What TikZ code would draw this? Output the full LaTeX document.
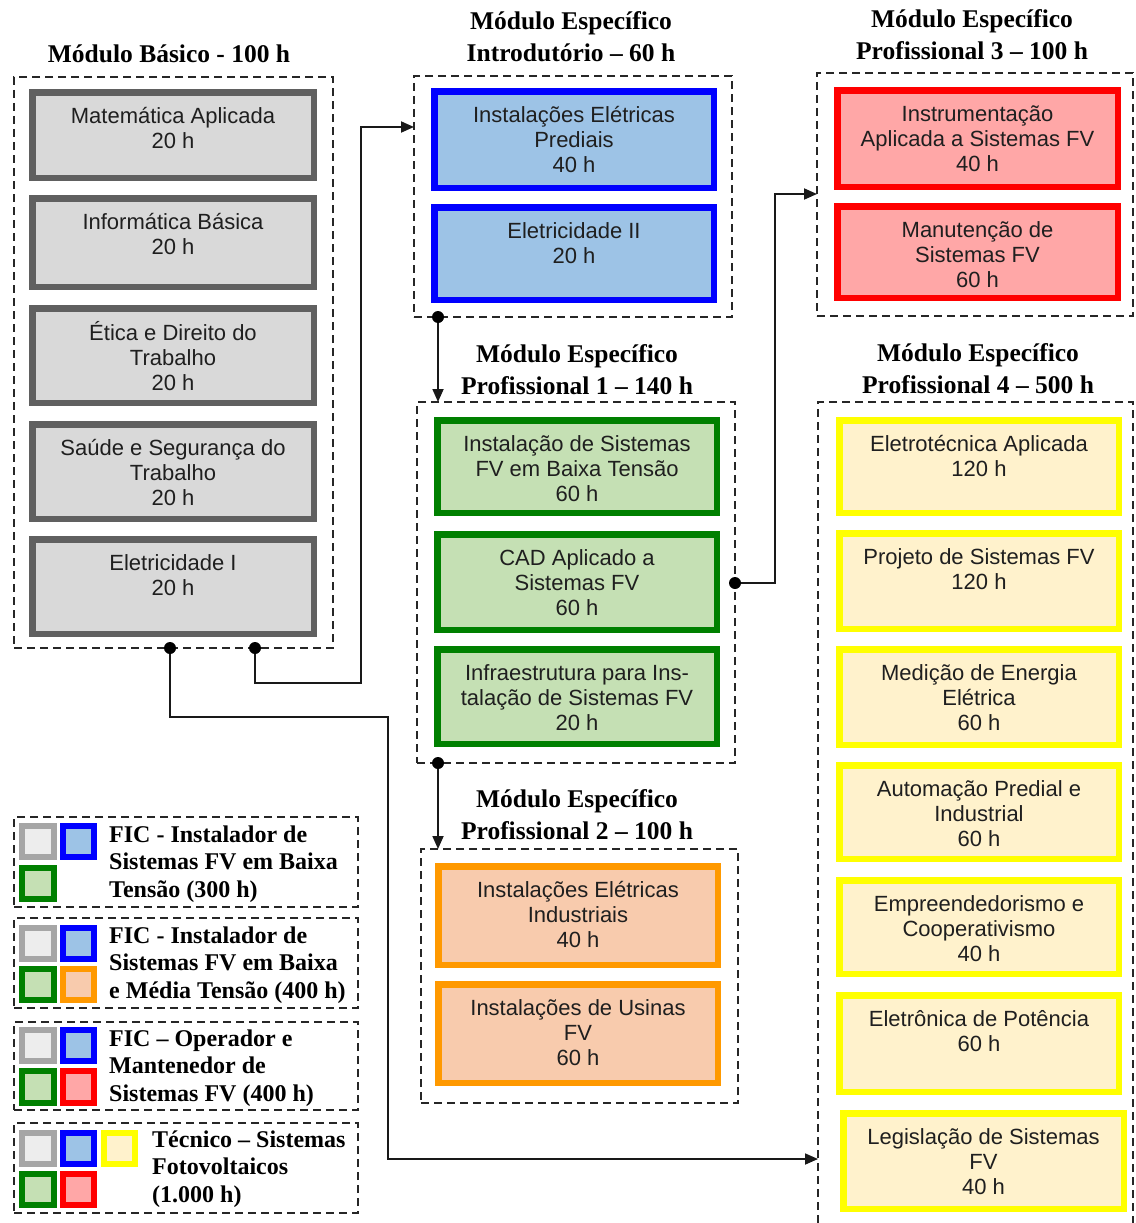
\documentclass[tikz,border=0pt]{standalone}
\usepackage{fontspec}
\setmainfont{Liberation Serif}
\newfontfamily\arialf{Liberation Sans}
\usetikzlibrary{arrows.meta,calc}
\definecolor{gB}{HTML}{606060}\definecolor{gF}{HTML}{D9D9D9}
\definecolor{bB}{HTML}{0000FF}\definecolor{bF}{HTML}{9DC3E6}
\definecolor{grB}{HTML}{008000}\definecolor{grF}{HTML}{C5E0B4}
\definecolor{oB}{HTML}{FF9900}\definecolor{oF}{HTML}{F8CBAD}
\definecolor{rB}{HTML}{FF0000}\definecolor{rF}{HTML}{FFA7A7}
\definecolor{yB}{HTML}{FFFF00}\definecolor{yF}{HTML}{FFF2CC}
\definecolor{lgB}{HTML}{A6A6A6}\definecolor{lgF}{HTML}{EDEDED}
\definecolor{txt}{HTML}{1F1F1F}
\tikzset{
  modbox/.style={draw=black!85, line width=1.8pt, dash pattern=on 8pt off 5pt, inner sep=0pt, outer sep=0pt},
  subjbox/.style={line width=6.5pt, inner sep=0pt, outer sep=0pt},
  gbox/.style={subjbox, draw=gB, fill=gF},
  bbox/.style={subjbox, draw=bB, fill=bF},
  grbox/.style={subjbox, draw=grB, fill=grF},
  obox/.style={subjbox, draw=oB, fill=oF},
  rbox/.style={subjbox, draw=rB, fill=rF},
  ybox/.style={subjbox, draw=yB, fill=yF},
  boxtext/.style={font=\arialf\fontsize{22}{25}\selectfont, text=txt, align=center, inner sep=0pt},
  ttl/.style={font=\bfseries\fontsize{25.5}{32}\selectfont, align=center, inner sep=0pt},
  legtext/.style={font=\bfseries\fontsize{24}{27.5}\selectfont, align=left, inner sep=0pt},
  conn/.style={line width=1.8pt, draw=black!90},
  arrowend/.style={-{Triangle[length=13pt,width=11pt]}},
  dotnode/.style={circle, fill=black, inner sep=0pt, minimum size=12pt},
  lsq/.style={line width=6pt, inner sep=0pt, outer sep=0pt},
  lgq/.style={lsq, draw=lgB, fill=lgF},
  lbq/.style={lsq, draw=bB, fill=bF},
  lgrq/.style={lsq, draw=grB, fill=grF},
  loq/.style={lsq, draw=oB, fill=oF},
  lrq/.style={lsq, draw=rB, fill=rF},
  lyq/.style={lsq, draw=yB, fill=yF},
}
\newcommand\mymod[5]{\node[modbox, anchor=north west, minimum width={(#4)-(#2)}, minimum height={(#5)-(#3)}] (#1) at (#2,#3) {};}
\newcommand\mybox[7]{%
  \node[#1, anchor=north west, minimum width={(#5)-(#3)-6.5}, minimum height={(#6)-(#4)-6.5}] (#2) at ({#3+3.25},{#4+3.25}) {};
  \node[boxtext, anchor=north] (#2t) at ([yshift=-13.25pt]#2.north) {\strut #7};}
\newcommand\lsqr[6]{\node[#2, anchor=north west, minimum width={(#5)-(#3)-6}, minimum height={(#6)-(#4)-6}] (#1) at ({#3+3},{#4+3}) {};}
\begin{document}
\begin{tikzpicture}[x=1pt,y=-1pt]
\useasboundingbox (0,0) rectangle (1135,1223);
\clip (0,0) rectangle (1135,1223);
\fill[white] (0,0) rectangle (1135,1223);

% ---- module containers
\mymod{mb}{14}{77}{333}{648}
\mymod{mi}{414}{76}{732}{317}
\mymod{m3}{817}{73}{1133}{316}
\mymod{m1}{417}{402}{735}{763}
\mymod{m2}{421}{849}{738}{1103}
\mymod{m4}{818}{402}{1133}{1260}

% ---- titles
\node[ttl, anchor=base] (tb) at (169,63) {Módulo Básico - 100 h};
\node[ttl, anchor=north] (ti) at (571,6.6) {\strut Módulo Específico\\Introdutório – 60 h};
\node[ttl, anchor=north] (t3) at (972,4.6) {\strut Módulo Específico\\Profissional 3 – 100 h};
\node[ttl, anchor=north] (t1) at (577,339.6) {\strut Módulo Específico\\Profissional 1 – 140 h};
\node[ttl, anchor=north] (t4) at (978,338.6) {\strut Módulo Específico\\Profissional 4 – 500 h};
\node[ttl, anchor=north] (t2) at (577,784.6) {\strut Módulo Específico\\Profissional 2 – 100 h};

% ---- basic module
\mybox{gbox}{b1}{29}{89}{317}{181}{Matemática Aplicada\\20 h}
\mybox{gbox}{b2}{29}{195}{317}{290}{Informática Básica\\20 h}
\mybox{gbox}{b3}{29}{305}{317}{406}{Ética e Direito do\\Trabalho\\20 h}
\mybox{gbox}{b4}{29}{421}{317}{522}{Saúde e Segurança do\\Trabalho\\20 h}
\mybox{gbox}{b5}{29}{536}{317}{637}{Eletricidade I\\20 h}

% ---- introductory module
\mybox{bbox}{i1}{431}{88}{717}{191}{Instalações Elétricas\\Prediais\\40 h}
\mybox{bbox}{i2}{431}{204}{717}{303}{Eletricidade II\\20 h}

% ---- professional 3
\mybox{rbox}{p31}{834}{87}{1121}{190}{Instrumentação\\Aplicada a Sistemas FV\\40 h}
\mybox{rbox}{p32}{834}{203}{1121}{301}{Manutenção de\\Sistemas FV\\60 h}

% ---- professional 1
\mybox{grbox}{p11}{434}{417}{720}{516}{Instalação de Sistemas\\FV em Baixa Tensão\\60 h}
\mybox{grbox}{p12}{434}{531}{720}{633}{CAD Aplicado a\\Sistemas FV\\60 h}
\mybox{grbox}{p13}{434}{646}{720}{747}{Infraestrutura para Ins-\\talação de Sistemas FV\\20 h}

% ---- professional 2
\mybox{obox}{p21}{435}{863}{721}{968}{Instalações Elétricas\\Industriais\\40 h}
\mybox{obox}{p22}{435}{981}{721}{1086}{Instalações de Usinas\\FV\\60 h}

% ---- professional 4
\mybox{ybox}{p41}{836}{417}{1122}{516}{Eletrotécnica Aplicada\\120 h}
\mybox{ybox}{p42}{836}{530}{1122}{632}{Projeto de Sistemas FV\\120 h}
\mybox{ybox}{p43}{836}{646}{1122}{748}{Medição de Energia\\Elétrica\\60 h}
\mybox{ybox}{p44}{836}{762}{1122}{862}{Automação Predial e\\Industrial\\60 h}
\mybox{ybox}{p45}{836}{877}{1122}{977}{Empreendedorismo e\\Cooperativismo\\40 h}
\mybox{ybox}{p46}{836}{992}{1122}{1095}{Eletrônica de Potência\\60 h}
\mybox{ybox}{p47}{840}{1110}{1127}{1212}{Legislação de Sistemas\\FV\\40 h}

% ---- connectors
\draw[conn, arrowend] (mb.south -| 255,0) node[dotnode]{} |- (361,683) |- (mi.west |- 0,127);
\draw[conn, arrowend] (mb.south -| 170,0) node[dotnode]{} |- (388,717) |- (m4.west |- 0,1159);
\draw[conn, arrowend] (mi.south -| 438,0) node[dotnode]{} -- (m1.north -| 438,0);
\draw[conn, arrowend] (m1.south -| 438,0) node[dotnode]{} -- (m2.north -| 438,0);
\draw[conn, arrowend] (m1.east |- 0,583) node[dotnode]{} -| (775,400) |- (m3.west |- 0,194);

% ---- legend
\mymod{lg1}{14}{817}{358}{907}
\lsqr{l1a}{lgq}{19}{823}{57}{860}
\lsqr{l1b}{lbq}{60}{823}{97}{860}
\lsqr{l1c}{lgrq}{19}{865}{57}{902}
\node[legtext, anchor=north west] (l1t) at (109,822.75) {\strut FIC - Instalador de\\Sistemas FV em Baixa\\Tensão (300 h)};

\mymod{lg2}{14}{918}{358}{1008}
\lsqr{l2a}{lgq}{19}{925}{57}{962}
\lsqr{l2b}{lbq}{60}{925}{97}{962}
\lsqr{l2c}{lgrq}{19}{966}{57}{1003}
\lsqr{l2d}{loq}{60}{966}{97}{1003}
\node[legtext, anchor=north west] (l2t) at (109,923.75) {\strut FIC - Instalador de\\Sistemas FV em Baixa\\e Média Tensão (400 h)};

\mymod{lg3}{14}{1022}{358}{1110}
\lsqr{l3a}{lgq}{19}{1027}{57}{1064}
\lsqr{l3b}{lbq}{60}{1027}{97}{1064}
\lsqr{l3c}{lgrq}{19}{1068}{57}{1106}
\lsqr{l3d}{lrq}{60}{1068}{97}{1106}
\node[legtext, anchor=north west] (l3t) at (109,1026.75) {\strut FIC – Operador e\\Mantenedor de\\Sistemas FV (400 h)};

\mymod{lg4}{14}{1123}{358}{1213}
\lsqr{l4a}{lgq}{19}{1130}{57}{1167}
\lsqr{l4b}{lbq}{60}{1130}{97}{1167}
\lsqr{l4e}{lyq}{101}{1130}{138}{1167}
\lsqr{l4c}{lgrq}{19}{1171}{57}{1208}
\lsqr{l4d}{lrq}{60}{1171}{97}{1208}
\node[legtext, anchor=north west] (l4t) at (152,1127.75) {\strut Técnico – Sistemas\\Fotovoltaicos\\(1.000 h)};
\end{tikzpicture}
\end{document}
